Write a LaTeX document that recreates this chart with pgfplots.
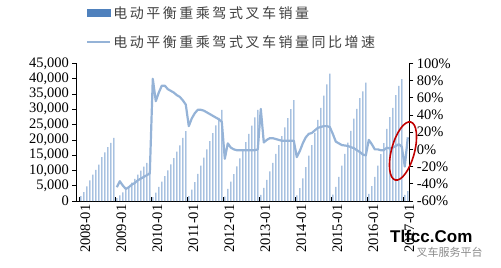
\documentclass[border=0pt]{standalone}
\usepackage{pgfplots}
\pgfplotsset{compat=1.18}
\usepackage{fontspec}
\setmainfont{Liberation Serif}
\newfontfamily\cjk[LetterSpace=18]{Noto Sans CJK SC}
\newfontfamily\cjkplain{Noto Sans CJK SC}
\newfontfamily\wmfont{Liberation Sans}
\definecolor{barblue}{HTML}{4F81BD}
\definecolor{barthin}{HTML}{789FCF}
\definecolor{lineblue}{HTML}{95B3D7}
\definecolor{ellred}{HTML}{C00000}
\begin{document}
\begin{tikzpicture}
\useasboundingbox (-76.5bp,-67bp) rectangle (424.5bp,201bp);
\begin{axis}[
  scale only axis, width=332.8bp, height=137.7bp,
  at={(0,0)}, anchor=south west,
  xmin=-1.43, xmax=109.5, ymin=0, ymax=45000,
  axis y line*=left, axis x line*=bottom,
  ybar, bar width=1.0bp,
  xtick={-0.5,11.5,23.5,35.5,47.5,59.5,71.5,83.5,95.5,107.5},
  xticklabels={2008-01,2009-01,2010-01,2011-01,2012-01,2013-01,2014-01,2015-01,2016-01,2017-01},
  xticklabel style={rotate=90, anchor=east, font=\fontsize{14.5bp}{17bp}\selectfont, yshift=-6bp},
  ytick={0,5000,...,45000},
  scaled y ticks=false,
  yticklabel style={font=\fontsize{14.5bp}{17bp}\selectfont},
  xtick align=inside, ytick align=outside,
  major tick length=4bp,
  tick style={black, line width=0.6bp},
  axis line style={black, line width=0.8bp},
  /pgf/number format/1000 sep={,},
  /pgf/number format/assume math mode=true,
  clip=false,
]
\addplot[fill=barthin, draw=none] coordinates {
(0,1600) (1,2900) (2,4800) (3,6700) (4,8600) (5,10200) (6,11900) (7,14300) (8,15900) (9,17600) (10,19000) (11,20600)
(12,900) (13,1800) (14,2800) (15,3700) (16,4800) (17,6000) (18,7200) (19,8600) (20,9900) (21,11200) (22,12500) (23,13800)
(24,1300) (25,2700) (26,4600) (27,6300) (28,8100) (29,10000) (30,12000) (31,14000) (32,16100) (33,18200) (34,20600) (35,22800)
(36,1600) (37,3700) (38,6200) (39,8900) (40,11600) (41,14200) (42,16900) (43,19600) (44,22200) (45,24700) (46,27200) (47,29800)
(48,1400) (49,4000) (50,6300) (51,8800) (52,11300) (53,13900) (54,16500) (55,19200) (56,21900) (57,24600) (58,27300) (59,29800)
(60,2000) (61,4300) (62,6900) (63,9700) (64,12500) (65,15400) (66,18300) (67,21200) (68,24100) (69,27100) (70,30000) (71,33000)
(72,1800) (73,4200) (74,7400) (75,11100) (76,14800) (77,18300) (78,22300) (79,26500) (80,30400) (81,34400) (82,38100) (83,41600)
(84,2100) (85,4600) (86,7900) (87,11600) (88,15400) (89,19100) (90,22900) (91,26900) (92,30100) (93,33600) (94,35800) (95,38700)
(96,2300) (97,4900) (98,7900) (99,11600) (100,15300) (101,18900) (102,23600) (103,27400) (104,30400) (105,34600) (106,37600) (107,39800)
(108,2000) (109,3200)
};
\end{axis}
\begin{axis}[
  scale only axis, width=332.8bp, height=137.7bp,
  at={(0,0)}, anchor=south west,
  xmin=-1.43, xmax=109.5, ymin=-60, ymax=100,
  axis y line*=right, axis x line=none,
  ytick={-60,-40,...,100},
  yticklabel={\pgfmathprintnumber[assume math mode=true]{\tick}\%},
  yticklabel style={font=\fontsize{14.5bp}{17bp}\selectfont},
  ytick align=outside, major tick length=4bp,
  tick style={black, line width=0.6bp},
  axis line style={black, line width=0.8bp},
  clip=false,
  legend style={at={(0.0285,1.43)}, anchor=north west, draw=none, fill=none,
    font=\cjk\fontsize{14bp}{16bp}\selectfont, text=black!75,
    row sep=12bp, inner sep=0pt},
  legend cell align=left,
]
\addlegendimage{legend image code/.code={\fill[barblue] (0bp,-3.3bp) rectangle (23bp,3.3bp);}}
\addlegendentry{电动平衡重乘驾式叉车销量}
\addplot[lineblue, line width=2.2bp, line join=round,
  legend image code/.code={\draw[lineblue, line width=2.2bp] (0bp,0bp) -- (23bp,0bp);}] coordinates {
(12,-44) (13,-37) (14,-42) (15,-46) (16,-44) (17,-41) (18,-39) (19,-36) (20,-34) (21,-32) (22,-30) (23,-28)
(24,82) (25,56) (26,66) (27,74) (28,74) (29,70) (30,68) (31,66) (32,63) (33,61) (34,57) (35,52)
(36,27) (37,36) (38,42) (39,46) (40,46) (41,45) (42,43) (43,41) (44,39) (45,37) (46,35) (47,32)
(48,-11) (49,7) (50,2) (51,0) (52,-1) (53,-1) (54,-1) (55,-1) (56,-1) (57,-1) (58,-1) (59,0)
(60,47) (61,8) (62,11) (63,13) (64,13) (65,12) (66,11) (67,10) (68,10) (69,10) (70,10) (71,10)
(72,-9) (73,-2) (74,7) (75,14) (76,18) (77,19) (78,22) (79,25) (80,26) (81,27) (82,27) (83,26)
(84,18) (85,9) (86,7) (87,5) (88,4.5) (89,4) (90,2.5) (91,1.5) (92,-1) (93,-3) (94,-6) (95,-7)
(96,11) (97,6) (98,0) (99,0) (100,-1) (101,-1) (102,2) (103,1) (104,2) (105,4) (106,6) (107,3)
(108,-20) (109,14)
};
\addlegendentry{电动平衡重乘驾式叉车销量同比增速}
\end{axis}
\draw[ellred, line width=1.6bp, rotate around={-15:(326.5bp,50bp)}] (326.5bp,50bp) ellipse [x radius=11.5bp, y radius=30bp];
\node[anchor=west, inner sep=0pt, font=\wmfont\bfseries\fontsize{17bp}{17bp}\selectfont] at (313.5bp,-35bp) {Tlfcc.Com};
\node[anchor=west, inner sep=0pt, text=black!45, font=\cjkplain\fontsize{11bp}{11bp}\selectfont] at (340bp,-51bp) {叉车服务平台};
\end{tikzpicture}
\end{document}
